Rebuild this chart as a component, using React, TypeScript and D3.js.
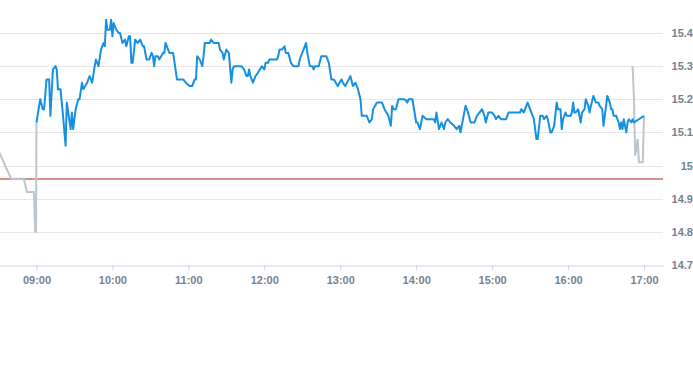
import { useEffect, useRef } from "react";
import * as d3 from "d3";

// pre-market (grey)
const preTimes = ["08:30", "08:40", "08:50", "08:52:30", "08:58", "08:59", "08:59:40", "09:00"];
const preValues = [15.045, 14.96, 14.96, 14.92, 14.92, 14.8, 14.8, 15.13];

// trading session (blue)
const sessionTimes = [
  "09:00", "09:03", "09:05", "09:06", "09:08", "09:10", "09:11", "09:13", "09:15", "09:16",
  "09:17", "09:19", "09:21", "09:23", "09:24", "09:27", "09:28", "09:29", "09:31", "09:33",
  "09:34", "09:36", "09:37", "09:40", "09:42", "09:44", "09:46", "09:47", "09:49", "09:51",
  "09:53", "09:54", "09:55", "09:56", "09:58", "09:59", "10:00", "10:01", "10:03", "10:05",
  "10:06", "10:08", "10:10", "10:11", "10:13", "10:14", "10:15", "10:16", "10:18", "10:20",
  "10:22", "10:24", "10:25", "10:27", "10:29", "10:31", "10:32", "10:33", "10:34", "10:36",
  "10:37", "10:40", "10:41", "10:42", "10:44", "10:45", "10:48", "10:51", "10:56", "10:58",
  "11:01", "11:03", "11:05", "11:06", "11:07", "11:09", "11:11", "11:12", "11:13", "11:15",
  "11:17", "11:18", "11:20", "11:22", "11:24", "11:25", "11:27", "11:28", "11:30", "11:32",
  "11:34", "11:35", "11:36", "11:42", "11:44", "11:46", "11:47", "11:48", "11:49", "11:51",
  "11:53", "11:55", "11:58", "12:00", "12:01", "12:03", "12:04", "12:10", "12:11", "12:12",
  "12:14", "12:16", "12:17", "12:19", "12:21", "12:23", "12:25", "12:27", "12:28", "12:29",
  "12:31", "12:33", "12:34", "12:36", "12:38", "12:39", "12:40", "12:43", "12:45", "12:49",
  "12:51", "12:53", "12:55", "12:58", "13:01", "13:02", "13:04", "13:08", "13:10", "13:12",
  "13:14", "13:16", "13:17", "13:21", "13:23", "13:25", "13:26", "13:29", "13:33", "13:35",
  "13:38", "13:40", "13:41", "13:42", "13:44", "13:46", "13:51", "13:53", "13:54", "13:57",
  "14:00", "14:01", "14:03", "14:05", "14:08", "14:14", "14:15", "14:16", "14:18", "14:20",
  "14:22", "14:23", "14:25", "14:27", "14:30", "14:32", "14:34", "14:35", "14:37", "14:39",
  "14:41", "14:43", "14:46", "14:48", "14:50", "14:52", "14:54", "14:55", "14:57", "15:00",
  "15:02", "15:03", "15:05", "15:07", "15:11", "15:13", "15:14", "15:16", "15:19", "15:22",
  "15:23", "15:25", "15:27", "15:28", "15:30", "15:32", "15:33", "15:35", "15:36", "15:38",
  "15:40", "15:41", "15:43", "15:44", "15:46", "15:47", "15:49", "15:51", "15:52", "15:54",
  "15:55", "15:56", "15:58", "15:59", "16:01", "16:02", "16:03", "16:04", "16:05", "16:06",
  "16:08", "16:10", "16:11", "16:13", "16:14", "16:16", "16:17", "16:18", "16:20", "16:22",
  "16:24", "16:25", "16:27", "16:28", "16:30", "16:31", "16:33", "16:34", "16:35", "16:36",
  "16:38", "16:40", "16:41", "16:42", "16:43", "16:44", "16:46", "16:47", "16:48", "16:50",
  "16:51", "16:52", "17:00"
];
const sessionValues = [
  15.13, 15.20, 15.17, 15.17, 15.26, 15.26, 15.15, 15.29, 15.30, 15.29,
  15.23, 15.23, 15.15, 15.06, 15.19, 15.11, 15.16, 15.11, 15.17, 15.20,
  15.20, 15.25, 15.23, 15.25, 15.27, 15.25, 15.30, 15.32, 15.30, 15.35,
  15.37, 15.36, 15.44, 15.41, 15.41, 15.44, 15.39, 15.43, 15.41, 15.40,
  15.40, 15.37, 15.38, 15.36, 15.39, 15.39, 15.31, 15.31, 15.38, 15.37,
  15.38, 15.36, 15.36, 15.32, 15.32, 15.34, 15.33, 15.30, 15.33, 15.33,
  15.32, 15.34, 15.34, 15.37, 15.35, 15.34, 15.34, 15.26, 15.26, 15.25,
  15.24, 15.24, 15.26, 15.26, 15.33, 15.32, 15.30, 15.33, 15.37, 15.37,
  15.37, 15.38, 15.37, 15.37, 15.37, 15.35, 15.34, 15.32, 15.35, 15.34,
  15.25, 15.29, 15.30, 15.30, 15.29, 15.27, 15.27, 15.29, 15.27, 15.25,
  15.27, 15.28, 15.30, 15.29, 15.31, 15.31, 15.32, 15.32, 15.33, 15.35,
  15.35, 15.36, 15.34, 15.34, 15.31, 15.30, 15.30, 15.30, 15.32, 15.33,
  15.35, 15.37, 15.34, 15.30, 15.30, 15.29, 15.30, 15.30, 15.33, 15.33,
  15.31, 15.26, 15.26, 15.24, 15.26, 15.25, 15.24, 15.27, 15.24, 15.25,
  15.23, 15.20, 15.15, 15.15, 15.13, 15.14, 15.17, 15.19, 15.19, 15.17,
  15.15, 15.12, 15.18, 15.17, 15.17, 15.20, 15.20, 15.19, 15.20, 15.20,
  15.13, 15.13, 15.11, 15.15, 15.14, 15.14, 15.13, 15.16, 15.11, 15.13,
  15.11, 15.13, 15.14, 15.13, 15.12, 15.11, 15.12, 15.10, 15.14, 15.18,
  15.16, 15.13, 15.13, 15.15, 15.16, 15.17, 15.15, 15.13, 15.16, 15.16,
  15.15, 15.14, 15.15, 15.14, 15.14, 15.16, 15.16, 15.16, 15.16, 15.16,
  15.17, 15.16, 15.18, 15.19, 15.17, 15.15, 15.14, 15.08, 15.08, 15.15,
  15.15, 15.14, 15.15, 15.14, 15.10, 15.10, 15.12, 15.19, 15.17, 15.17,
  15.11, 15.14, 15.16, 15.15, 15.15, 15.15, 15.16, 15.19, 15.16, 15.16,
  15.17, 15.13, 15.16, 15.17, 15.20, 15.18, 15.16, 15.18, 15.21, 15.19,
  15.19, 15.18, 15.17, 15.12, 15.18, 15.21, 15.19, 15.17, 15.17, 15.15,
  15.15, 15.13, 15.11, 15.13, 15.11, 15.14, 15.10, 15.13, 15.14, 15.13,
  15.14, 15.13, 15.15
];

// closing auction (grey)
const postTimes = ["16:51", "16:52", "16:53", "16:55", "16:56", "16:59", "17:00"];
const postValues = [15.30, 15.21, 15.03, 15.08, 15.01, 15.01, 15.15];

const prevClose = 14.96;
const yTicks = [14.7, 14.8, 14.9, 15.0, 15.1, 15.2, 15.3, 15.4];
const yTickLabels = ["14.7", "14.8", "14.9", "15", "15.1", "15.2", "15.3", "15.4"];
const xTickLabels = ["09:00", "10:00", "11:00", "12:00", "13:00", "14:00", "15:00", "16:00", "17:00"];

const width = 693;
const height = 365;
const plot = { left: 0, right: 663, top: 0, bottom: 265 };

function toDate(s: string) {
  const [h, m, sec] = s.split(":").map(Number);
  return new Date(2024, 0, 2, h, m, sec || 0);
}

function zip(times: string[], values: number[]) {
  return times.map((t, i) => ({ date: toDate(t), value: values[i] }));
}

export default function App() {
  const ref = useRef<SVGSVGElement>(null);

  useEffect(() => {
    document.body.style.margin = "0";
    const svg = d3.select(ref.current);
    svg.selectAll("*").remove();

    const xScale = d3.scaleTime([toDate("08:31:12"), toDate("17:15")], [plot.left, plot.right]);
    const yScale = d3.scaleLinear([14.7, 15.4], [plot.bottom, 33]);
    const crisp = (v: number) => Math.round(v) + 0.5;

    const font = "'Liberation Sans', Arial, sans-serif";
    const labelColor = "#76828e";

    // grid
    svg.append("g")
      .selectAll("line")
      .data(yTicks.slice(1))
      .join("line")
      .attr("x1", plot.left)
      .attr("x2", plot.right)
      .attr("y1", d => crisp(yScale(d)))
      .attr("y2", d => crisp(yScale(d)))
      .attr("stroke", "#e6e6e6");

    // right labels
    svg.append("g")
      .selectAll("text")
      .data(yTicks)
      .join("text")
      .attr("x", 693)
      .attr("y", d => yScale(d) + 4)
      .attr("text-anchor", "end")
      .style("font-family", font)
      .style("font-size", "11px")
      .style("font-weight", "bold")
      .attr("fill", labelColor)
      .text((d, i) => yTickLabels[i]);

    // bottom axis
    const bottomAxis = d3.axisBottom(xScale)
      .tickValues(xTickLabels.map(toDate))
      .tickFormat((d, i) => xTickLabels[i])
      .tickSize(5)
      .tickSizeOuter(0)
      .tickPadding(6);

    const ax = svg.append("g")
      .attr("transform", `translate(0, ${plot.bottom + 0.5})`)
      .call(bottomAxis);
    ax.select(".domain").attr("stroke", "#ccd6eb");
    ax.selectAll(".tick line").attr("stroke", "#ccd6eb");
    ax.selectAll(".tick text")
      .style("font-family", font)
      .style("font-size", "11px")
      .style("font-weight", "bold")
      .attr("fill", labelColor);

    // clip
    svg.append("clipPath").attr("id", "plot-clip")
      .append("rect")
      .attr("x", plot.left)
      .attr("y", plot.top)
      .attr("width", plot.right - plot.left)
      .attr("height", plot.bottom - plot.top);

    const lines = svg.append("g").attr("clip-path", "url(#plot-clip)");

    // previous close
    const closeY = Math.round(yScale(prevClose));
    lines.append("line")
      .attr("x1", plot.left)
      .attr("x2", plot.right)
      .attr("y1", closeY)
      .attr("y2", closeY)
      .attr("stroke", "#c01d15")
      .attr("stroke-width", 1.2);

    const lineGenerator = d3.line<{ date: Date; value: number }>()
      .x(d => xScale(d.date))
      .y(d => yScale(d.value));

    lines.append("path")
      .attr("d", lineGenerator(zip(preTimes, preValues)))
      .attr("fill", "none")
      .attr("stroke", "#bcc6ce")
      .attr("stroke-width", 2);

    lines.append("path")
      .attr("d", lineGenerator(zip(postTimes, postValues)))
      .attr("fill", "none")
      .attr("stroke", "#bcc6ce")
      .attr("stroke-width", 2);

    lines.append("path")
      .attr("d", lineGenerator(zip(sessionTimes, sessionValues)))
      .attr("fill", "none")
      .attr("stroke", "#1690e0")
      .attr("stroke-width", 2)
      .attr("stroke-linejoin", "round");
  }, []);

  return (
    <svg
      ref={ref}
      width={width}
      height={height}
      style={{ position: "absolute", left: 0, top: 0, background: "#fff" }}
    />
  );
}
